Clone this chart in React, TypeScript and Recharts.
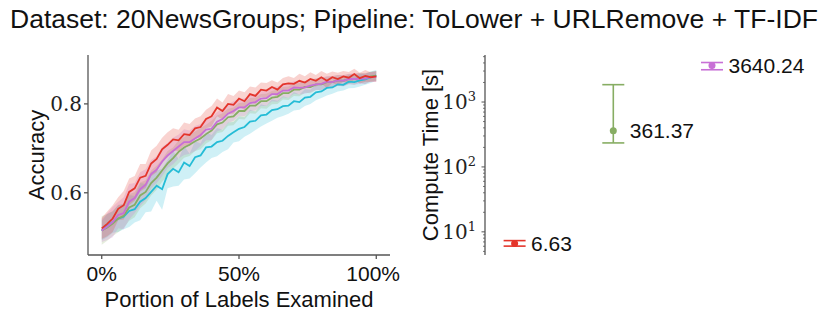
import React from "react";
import {
  ComposedChart, Line, Area, XAxis, YAxis, ScatterChart, Scatter, ErrorBar, LabelList,
} from "recharts";

const SANS = "Liberation Sans, Arial, sans-serif";
const SERIF = "DejaVu Serif, serif";

const RED = "#e4352b";
const VIOLET = "#c86fd6";
const GREEN = "#87ad63";
const CYAN = "#25bcd6";

// portion of labels examined (%)
const portion = [
  0, 2, 4, 6, 8, 10, 12, 14, 16, 18, 20, 22, 24, 26, 28, 30, 32, 34, 36, 38, 40, 42, 44, 46, 48, 50,
  52, 54, 56, 58, 60, 62, 64, 66, 68, 70, 72, 74, 76, 78, 80, 82, 84, 86, 88, 90, 92, 94, 96, 98, 100,
];

const redAcc = [
  0.52, 0.53, 0.542, 0.564, 0.572, 0.602, 0.61, 0.634, 0.638, 0.666, 0.676, 0.698, 0.708, 0.72, 0.718,
  0.732, 0.73, 0.745, 0.748, 0.766, 0.772, 0.792, 0.784, 0.8, 0.798, 0.812, 0.806, 0.822, 0.818, 0.832,
  0.83, 0.838, 0.832, 0.844, 0.846, 0.845, 0.852, 0.848, 0.856, 0.852, 0.86, 0.852, 0.86, 0.856,
  0.862, 0.859, 0.867, 0.858, 0.863, 0.86, 0.862,
];
const redSpread = [
  0.024, 0.028, 0.03, 0.026, 0.032, 0.03, 0.028, 0.031, 0.027, 0.029,
  0.03, 0.026, 0.028, 0.025, 0.024, 0.026, 0.025, 0.022, 0.024, 0.021,
  0.023, 0.02, 0.019, 0.022, 0.02, 0.018, 0.02, 0.017, 0.019, 0.016,
  0.017, 0.015, 0.016, 0.014, 0.016, 0.013, 0.016, 0.014, 0.015, 0.013,
  0.014, 0.016, 0.013, 0.014, 0.012, 0.013, 0.012, 0.012, 0.013, 0.011, 0.012,
];

const violetAcc = [
  0.515, 0.524, 0.534, 0.55, 0.554, 0.58, 0.588, 0.608, 0.618, 0.642, 0.652, 0.67, 0.684, 0.694,
  0.704, 0.714, 0.714, 0.722, 0.73, 0.742, 0.744, 0.76, 0.766, 0.778, 0.784, 0.792, 0.792, 0.802, 0.804,
  0.812, 0.813, 0.822, 0.822, 0.83, 0.83, 0.837, 0.836, 0.837, 0.841, 0.844, 0.845, 0.85, 0.849,
  0.853, 0.852, 0.856, 0.856, 0.857, 0.857, 0.861, 0.861,
];
const violetSpread = [
  0.026, 0.03, 0.034, 0.03, 0.036, 0.04, 0.034, 0.038, 0.035, 0.032,
  0.03, 0.033, 0.028, 0.03, 0.027, 0.029, 0.026, 0.028, 0.025, 0.024,
  0.025, 0.022, 0.023, 0.021, 0.022, 0.019, 0.02, 0.018, 0.019, 0.017,
  0.018, 0.016, 0.017, 0.015, 0.016, 0.014, 0.015, 0.014, 0.015, 0.013,
  0.014, 0.013, 0.014, 0.012, 0.013, 0.012, 0.013, 0.012, 0.012, 0.011, 0.012,
];

const greenAcc = [
  0.515, 0.522, 0.531, 0.542, 0.548, 0.567, 0.573, 0.594, 0.602, 0.622, 0.634, 0.65, 0.666, 0.678,
  0.692, 0.702, 0.708, 0.716, 0.722, 0.732, 0.74, 0.754, 0.758, 0.77, 0.772, 0.784, 0.784, 0.796, 0.796,
  0.806, 0.806, 0.814, 0.816, 0.824, 0.824, 0.832, 0.832, 0.838, 0.838, 0.844, 0.844, 0.849, 0.849,
  0.853, 0.852, 0.856, 0.855, 0.859, 0.857, 0.862, 0.863,
];
const greenSpread = [
  0.032, 0.03, 0.028, 0.031, 0.027, 0.03, 0.028, 0.029, 0.026, 0.028,
  0.027, 0.025, 0.028, 0.024, 0.026, 0.023, 0.025, 0.022, 0.024, 0.021,
  0.022, 0.02, 0.021, 0.019, 0.02, 0.018, 0.019, 0.017, 0.018, 0.016,
  0.017, 0.015, 0.016, 0.014, 0.015, 0.014, 0.015, 0.013, 0.014, 0.013,
  0.013, 0.012, 0.013, 0.012, 0.012, 0.011, 0.012, 0.011, 0.012, 0.011, 0.011,
];

const cyanAcc = [
  0.515, 0.526, 0.534, 0.542, 0.546, 0.559, 0.563, 0.58, 0.588, 0.602, 0.616, 0.608, 0.642, 0.654, 0.646,
  0.668, 0.66, 0.68, 0.684, 0.702, 0.704, 0.714, 0.717, 0.728, 0.736, 0.744, 0.748, 0.76, 0.762,
  0.774, 0.776, 0.786, 0.788, 0.795, 0.796, 0.806, 0.804, 0.814, 0.816, 0.826, 0.828, 0.836, 0.837,
  0.844, 0.843, 0.85, 0.849, 0.853, 0.855, 0.86, 0.864,
];
const cyanSpread = [
  0.022, 0.026, 0.024, 0.03, 0.028, 0.036, 0.03, 0.042, 0.032, 0.044,
  0.034, 0.046, 0.032, 0.04, 0.03, 0.038, 0.028, 0.036, 0.027, 0.034,
  0.026, 0.032, 0.025, 0.03, 0.023, 0.028, 0.022, 0.027, 0.021, 0.025,
  0.02, 0.024, 0.019, 0.022, 0.018, 0.021, 0.017, 0.019, 0.016, 0.018,
  0.015, 0.017, 0.014, 0.016, 0.013, 0.015, 0.013, 0.014, 0.012, 0.013, 0.012,
];

// compute time (right panel)
const timeRed = [{ x: 0, time: 6.63, err: [0.6, 0.7] }];
const timeGreen = [{ x: 1, time: 361.37, err: [127, 1489] }];
const timeViolet = [{ x: 2, time: 3640.24, err: [500, 420] }];

const majorTicks = [10, 100, 1000];
const minorTicks = [5, 6, 7, 8, 9, 20, 30, 40, 50, 60, 70, 80, 90, 200, 300, 400, 500, 600, 700, 800, 900, 2000, 3000, 4000, 5000];
const exponents: Record<number, string> = { 10: "1", 100: "2", 1000: "3" };

const table = portion.map((p, i) => ({
  p,
  red: redAcc[i],
  redBand: [redAcc[i] - redSpread[i], redAcc[i] + redSpread[i]],
  violet: violetAcc[i],
  violetBand: [violetAcc[i] - violetSpread[i], violetAcc[i] + violetSpread[i]],
  green: greenAcc[i],
  greenBand: [greenAcc[i] - greenSpread[i], greenAcc[i] + greenSpread[i]],
  cyan: cyanAcc[i],
  cyanBand: [cyanAcc[i] - cyanSpread[i], cyanAcc[i] + cyanSpread[i]],
}));

const AXIS = "#555";

function LogTick(props: any) {
  const { x, y, payload } = props;
  const major = majorTicks.includes(payload.value);
  return (
    <g>
      <line x1={x - (major ? 3.5 : 2)} x2={x} y1={y} y2={y} stroke={AXIS} strokeWidth={major ? 1 : 0.8} />
      {major && (
        <text x={x - 9} y={y} dy="0.36em" textAnchor="end" fontFamily={SERIF} fontSize={20} fill="#222">
          10
          <tspan dy="-0.6em" fontSize={13}>{exponents[payload.value]}</tspan>
        </text>
      )}
    </g>
  );
}

const dot = (color: string) => (props: any) => <circle cx={props.cx} cy={props.cy} r={3.5} fill={color} />;

const labelStyle = { fontFamily: SANS, fontSize: 22, fill: "#111" };

export default function App() {
  return (
    <div style={{ position: "absolute", left: 0, top: 0, width: 830, height: 320, background: "#fff" }}>
      <svg width={830} height={40} style={{ position: "absolute", left: 0, top: 0 }}>
        <text x={414} y={28} textAnchor="middle" fontFamily={SANS} fontSize={26} fill="#111"
          textLength={808} lengthAdjust="spacingAndGlyphs">
          Dataset: 20NewsGroups; Pipeline: ToLower + URLRemove + TF-IDF
        </text>
      </svg>

      <div style={{ position: "absolute", left: 0, top: 0 }}>
        <ComposedChart width={400} height={320} data={table} margin={{ top: 55, right: 10, bottom: 10, left: 0 }}>
          <XAxis dataKey="p" type="number" domain={[-5, 105]} ticks={[0, 50, 100]} tickFormatter={(v) => `${v}%`}
            height={55} tickSize={4} tickMargin={7} stroke={AXIS} strokeWidth={1.3}
            tick={{ fontFamily: SANS, fontSize: 21, fill: "#111" }}
            label={{ value: "Portion of Labels Examined", position: "insideBottom", offset: 3, style: labelStyle }} />
          <YAxis type="number" domain={[0.46, 0.91]} ticks={[0.6, 0.8]} tickFormatter={(v) => v.toFixed(1)}
            allowDataOverflow width={88} tickSize={4} tickMargin={2} stroke={AXIS} strokeWidth={1.3}
            tick={{ fontFamily: SERIF, fontSize: 20, fill: "#222" }}
            label={{ value: "Accuracy", angle: -90, position: "insideLeft", offset: 36, style: { ...labelStyle, textAnchor: "middle" } }} />
          <Area dataKey="cyanBand" type="linear" stroke="none" fill={CYAN} fillOpacity={0.22} isAnimationActive={false} />
          <Area dataKey="greenBand" type="linear" stroke="none" fill={GREEN} fillOpacity={0.22} isAnimationActive={false} />
          <Area dataKey="violetBand" type="linear" stroke="none" fill={VIOLET} fillOpacity={0.22} isAnimationActive={false} />
          <Area dataKey="redBand" type="linear" stroke="none" fill={RED} fillOpacity={0.22} isAnimationActive={false} />
          <Line dataKey="cyan" type="linear" stroke={CYAN} strokeWidth={1.8} dot={false} isAnimationActive={false} />
          <Line dataKey="green" type="linear" stroke={GREEN} strokeWidth={1.8} dot={false} isAnimationActive={false} />
          <Line dataKey="violet" type="linear" stroke={VIOLET} strokeWidth={1.8} dot={false} isAnimationActive={false} />
          <Line dataKey="red" type="linear" stroke={RED} strokeWidth={1.8} dot={false} isAnimationActive={false} />
        </ComposedChart>
      </div>

      <div style={{ position: "absolute", left: 400, top: 0 }}>
        <ScatterChart width={430} height={320} margin={{ top: 55, right: 43, bottom: 65, left: 0 }}>
          <XAxis dataKey="x" type="number" domain={[-0.3, 2.76]} tick={false} tickLine={false}
            height={0} stroke={AXIS} strokeWidth={1.3} />
          <YAxis dataKey="time" type="number" scale="log" domain={[4.4, 5300]} allowDataOverflow
            ticks={[...minorTicks, ...majorTicks]} interval={0} width={85} tickSize={0} tickMargin={0}
            tickLine={false} tick={<LogTick />} stroke={AXIS} strokeWidth={1.3}
            label={{ value: "Compute Time [s]", angle: -90, position: "insideLeft", offset: 30, style: { ...labelStyle, textAnchor: "middle" } }} />
          {[
            { data: timeRed, color: RED },
            { data: timeGreen, color: GREEN },
            { data: timeViolet, color: VIOLET },
          ].map((s, i) => (
            <Scatter key={i} data={s.data} fill={s.color} shape={dot(s.color)} isAnimationActive={false}>
              <ErrorBar dataKey="err" direction="y" width={11} stroke={s.color} strokeWidth={1.6} isAnimationActive={false} />
              <LabelList dataKey="time" position="right" offset={12} formatter={(v: any) => Number(v).toFixed(2)}
                style={{ fontFamily: SANS, fontSize: 21, fill: "#111" }} />
            </Scatter>
          ))}
        </ScatterChart>
      </div>
    </div>
  );
}
